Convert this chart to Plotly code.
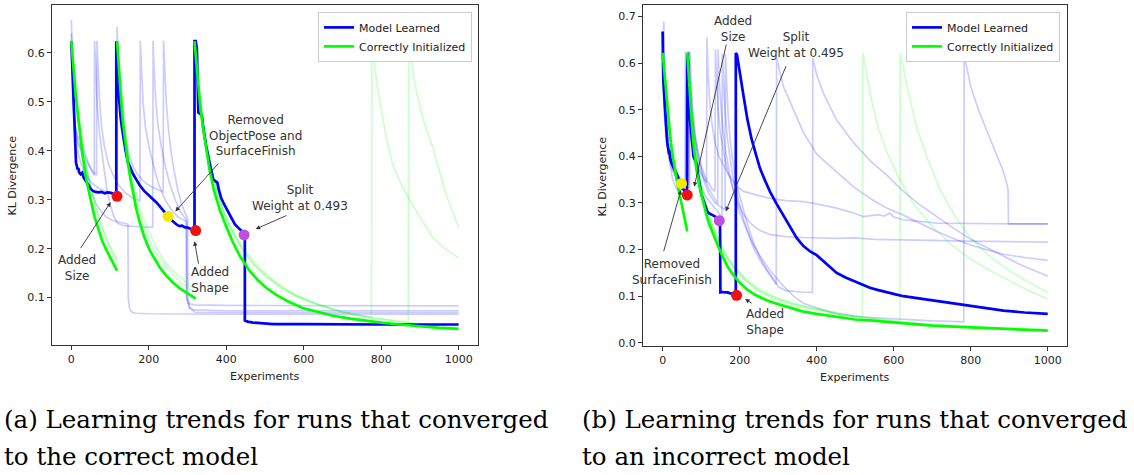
import plotly.graph_objects as go

W, H = 1134, 475

# ---------------- panel (a): runs that converged to the correct model ----------------
A_LEARNED = [(0, 0.624), (2, 0.58), (4, 0.52), (6, 0.47), (8, 0.43), (10, 0.40), (12, 0.375), (14, 0.37),
             (16, 0.362), (18, 0.365), (20, 0.356), (24, 0.352), (28, 0.355), (32, 0.345), (38, 0.338),
             (44, 0.33), (50, 0.322), (56, 0.318), (62, 0.316), (70, 0.315), (78, 0.316), (86, 0.313),
             (94, 0.315), (102, 0.314), (110, 0.312), (116, 0.31), (116, 0.624),
             (118, 0.60), (120, 0.54), (123, 0.50), (127, 0.47), (131, 0.445), (135, 0.424), (140, 0.40),
             (146, 0.377), (152, 0.365), (159, 0.353), (167, 0.342), (176, 0.33), (188, 0.318), (202, 0.308),
             (210, 0.302), (219, 0.295), (228, 0.287), (237, 0.279), (244, 0.273), (250, 0.266), (256, 0.26),
             (262, 0.255), (268, 0.252), (274, 0.248), (280, 0.246), (286, 0.247), (292, 0.244), (300, 0.243),
             (308, 0.241), (314, 0.239), (318, 0.237), (318, 0.624),
             (321, 0.624), (324, 0.61), (326, 0.50), (328, 0.478), (333, 0.475), (337, 0.472), (340, 0.45),
             (344, 0.424), (348, 0.41), (353, 0.39), (358, 0.37), (362, 0.352), (366, 0.342), (372, 0.338),
             (377, 0.335), (381, 0.32), (387, 0.303), (395, 0.29), (404, 0.276), (413, 0.262), (422, 0.25),
             (428, 0.245), (435, 0.239), (440, 0.236), (446, 0.23), (448, 0.23), (448, 0.053),
             (455, 0.051), (469, 0.049), (490, 0.048), (521, 0.046), (600, 0.046), (700, 0.045),
             (800, 0.045), (900, 0.045), (1000, 0.045)]

A_INIT_1 = [(0, 0.624), (5, 0.57), (10, 0.525), (15, 0.485), (20, 0.45), (25, 0.415), (30, 0.385), (40, 0.335),
            (50, 0.297), (60, 0.265), (70, 0.24), (80, 0.215), (90, 0.198), (100, 0.183), (110, 0.168), (118, 0.155)]
A_INIT_2 = [(118, 0.624), (123, 0.56), (128, 0.51), (133, 0.46), (140, 0.41), (146, 0.375), (152, 0.345),
            (159, 0.315), (168, 0.28), (176, 0.255), (188, 0.225), (202, 0.197), (215, 0.178), (228, 0.162),
            (245, 0.145), (262, 0.131), (280, 0.119), (297, 0.11), (310, 0.103), (321, 0.098)]
A_INIT_3 = [(318, 0.624), (323, 0.575), (327, 0.54), (333, 0.49), (340, 0.447), (348, 0.405), (357, 0.36),
            (368, 0.32), (383, 0.28), (400, 0.245), (417, 0.213), (435, 0.185), (460, 0.155), (480, 0.137),
            (503, 0.12), (530, 0.105), (560, 0.092), (600, 0.078), (630, 0.072), (676, 0.063), (720, 0.057),
            (762, 0.052), (800, 0.049), (848, 0.045), (900, 0.041), (950, 0.038), (1000, 0.036)]

A_OTHER_LEARNED_1 = [(0, 0.667), (2, 0.6), (4, 0.54), (7, 0.48), (10, 0.44), (15, 0.42), (20, 0.41), (28, 0.39),
                     (36, 0.37), (45, 0.34), (55, 0.31), (65, 0.29), (78, 0.275), (90, 0.265), (105, 0.258),
                     (120, 0.255), (135, 0.252), (146, 0.25), (147, 0.1), (150, 0.078), (155, 0.071),
                     (165, 0.068), (200, 0.067), (400, 0.066), (1000, 0.066)]
A_OTHER_LEARNED_2 = [(0, 0.64), (3, 0.56), (6, 0.49), (10, 0.45), (16, 0.43), (24, 0.42), (32, 0.40), (42, 0.38),
                     (52, 0.36), (59, 0.35), (60, 0.625), (63, 0.56), (67, 0.49), (72, 0.44), (78, 0.40),
                     (85, 0.36), (92, 0.32), (100, 0.29), (110, 0.265), (120, 0.252), (135, 0.247), (160, 0.245),
                     (190, 0.244), (210, 0.244), (211, 0.625), (214, 0.56), (218, 0.5), (224, 0.45), (232, 0.41),
                     (242, 0.37), (255, 0.33), (268, 0.3), (282, 0.275), (296, 0.26), (297, 0.1), (302, 0.088),
                     (320, 0.085), (400, 0.084), (1000, 0.083)]
A_OTHER_LEARNED_3 = [(0, 0.625), (4, 0.52), (8, 0.46), (14, 0.43), (22, 0.41), (32, 0.39), (45, 0.37), (58, 0.355),
                     (65, 0.35), (66, 0.625), (69, 0.56), (73, 0.5), (78, 0.45), (85, 0.41), (95, 0.375),
                     (108, 0.35), (122, 0.33), (138, 0.315), (155, 0.305), (170, 0.3), (177, 0.298), (178, 0.625),
                     (181, 0.56), (185, 0.5), (191, 0.45), (200, 0.41), (212, 0.37), (226, 0.33), (242, 0.3),
                     (258, 0.28), (275, 0.265), (290, 0.258), (298, 0.255), (298, 0.1), (304, 0.08), (315, 0.075),
                     (400, 0.073), (1000, 0.073)]
A_OTHER_LEARNED_4 = [(0, 0.61), (4, 0.5), (9, 0.44), (16, 0.4), (26, 0.37), (38, 0.35), (52, 0.335), (68, 0.325),
                     (85, 0.318), (100, 0.314), (117, 0.31), (118, 0.654), (121, 0.58), (125, 0.52), (130, 0.47),
                     (137, 0.43), (146, 0.4), (158, 0.37), (172, 0.35), (190, 0.335), (210, 0.325), (230, 0.318),
                     (237, 0.316), (238, 0.625), (241, 0.56), (245, 0.5), (250, 0.45), (257, 0.4), (265, 0.36),
                     (275, 0.32), (285, 0.29), (295, 0.27), (300, 0.262), (301, 0.1), (306, 0.078), (320, 0.07),
                     (400, 0.069), (1000, 0.069)]

A_OTHER_INIT_1 = [(0, 0.62), (8, 0.55), (16, 0.49), (25, 0.435), (35, 0.385), (45, 0.345), (55, 0.31), (65, 0.28),
                  (75, 0.255), (85, 0.232), (95, 0.213), (105, 0.197), (112, 0.187), (118, 0.178)]
A_OTHER_INIT_2 = [(0, 0.62), (10, 0.54), (20, 0.47), (30, 0.41), (42, 0.355), (55, 0.31), (68, 0.27), (80, 0.24),
                  (92, 0.215), (104, 0.195), (118, 0.172)]
A_OTHER_INIT_3 = [(118, 0.62), (126, 0.54), (135, 0.46), (145, 0.395), (157, 0.335), (170, 0.29), (185, 0.25),
                  (200, 0.22), (220, 0.19), (240, 0.167), (260, 0.148), (280, 0.133), (300, 0.12), (318, 0.11)]
A_OTHER_INIT_4 = [(118, 0.62), (128, 0.53), (138, 0.45), (150, 0.38), (165, 0.32), (180, 0.275), (200, 0.235),
                  (220, 0.2), (240, 0.175), (262, 0.155), (285, 0.138), (305, 0.125), (318, 0.118)]
A_OTHER_INIT_5 = [(318, 0.62), (326, 0.55), (336, 0.48), (348, 0.415), (362, 0.36), (378, 0.31), (395, 0.27),
                  (415, 0.235), (440, 0.2), (470, 0.168), (500, 0.145), (540, 0.12), (580, 0.103), (620, 0.09),
                  (660, 0.08), (700, 0.071), (750, 0.063), (775, 0.06), (776, 0.62), (790, 0.53), (810, 0.44),
                  (830, 0.37), (850, 0.335), (873, 0.3), (900, 0.265), (934, 0.222), (965, 0.2), (1000, 0.181)]
A_OTHER_INIT_6 = [(318, 0.62), (328, 0.54), (340, 0.46), (352, 0.40), (366, 0.35), (382, 0.30), (400, 0.26),
                  (420, 0.228), (445, 0.195), (475, 0.165), (510, 0.14), (550, 0.117), (590, 0.1), (630, 0.088),
                  (680, 0.075), (730, 0.065), (780, 0.058), (830, 0.053), (870, 0.05), (871, 0.62), (891, 0.52),
                  (910, 0.46), (934, 0.404), (950, 0.36), (968, 0.31), (985, 0.275), (1000, 0.243)]
A_OTHER_INIT_7 = [(318, 0.62), (330, 0.52), (345, 0.43), (360, 0.37), (380, 0.31), (400, 0.265), (425, 0.225),
                  (455, 0.19), (490, 0.158), (530, 0.13), (580, 0.105), (640, 0.085), (700, 0.07), (780, 0.058),
                  (860, 0.049), (940, 0.043), (1000, 0.039)]

A_EVENT_X = [118, 250, 321, 446]
A_EVENT_Y = [0.307, 0.266, 0.237, 0.228]
A_EVENT_COLOR = ["#f01010", "#f5e800", "#f01010", "#bf4fdc"]

# ---------------- panel (b): runs that converged to an incorrect model ----------------
B_LEARNED = [(0, 0.668), (0, 0.63), (1, 0.6), (2, 0.56), (4, 0.526), (6, 0.50), (8, 0.47), (10, 0.455), (12, 0.43),
             (14, 0.42), (16, 0.409), (18, 0.41), (20, 0.395), (24, 0.384), (28, 0.378), (32, 0.37), (36, 0.363),
             (40, 0.355), (44, 0.345), (48, 0.335), (52, 0.33), (56, 0.328), (60, 0.322), (63, 0.318), (64, 0.622),
             (66, 0.6), (67, 0.512), (70, 0.49), (72, 0.477), (75, 0.45), (78, 0.42), (80, 0.40), (84, 0.39),
             (88, 0.384), (92, 0.36), (96, 0.335), (100, 0.32), (104, 0.31), (108, 0.30), (112, 0.29),
             (116, 0.282), (120, 0.278), (126, 0.275), (132, 0.272), (138, 0.27), (143, 0.268), (147, 0.262),
             (149, 0.258), (150, 0.108), (156, 0.109), (162, 0.108), (168, 0.108), (176, 0.106), (184, 0.105),
             (190, 0.102), (190, 0.622), (193, 0.618), (200, 0.585), (210, 0.53), (220, 0.48), (231, 0.437),
             (242, 0.405), (253, 0.374), (266, 0.348), (279, 0.324), (296, 0.298), (313, 0.274), (330, 0.25),
             (348, 0.225), (365, 0.208), (383, 0.196), (400, 0.188), (417, 0.175), (435, 0.162), (452, 0.15),
             (475, 0.14), (495, 0.133), (520, 0.125), (538, 0.118), (560, 0.113), (582, 0.108), (605, 0.104),
             (625, 0.1), (650, 0.097), (680, 0.093), (712, 0.09), (750, 0.085), (798, 0.079), (840, 0.074),
             (885, 0.069), (940, 0.065), (1000, 0.062)]

B_INIT_1 = [(0, 0.622), (4, 0.585), (8, 0.548), (12, 0.505), (16, 0.47), (20, 0.44), (24, 0.413), (28, 0.39),
            (32, 0.371), (36, 0.352), (40, 0.335), (44, 0.318), (48, 0.30), (52, 0.285), (56, 0.271), (60, 0.255),
            (64, 0.239)]
B_INIT_2 = [(64, 0.622), (68, 0.565), (72, 0.512), (76, 0.468), (80, 0.427), (84, 0.397), (88, 0.371), (96, 0.335),
            (104, 0.306), (112, 0.28), (120, 0.257), (132, 0.23), (144, 0.207), (156, 0.185), (168, 0.164),
            (184, 0.145), (200, 0.129), (220, 0.114), (240, 0.103), (260, 0.095), (280, 0.088), (300, 0.083),
            (330, 0.075), (365, 0.067), (400, 0.062), (452, 0.055), (500, 0.05), (538, 0.048), (582, 0.045),
            (625, 0.042), (700, 0.037), (798, 0.033), (900, 0.029), (1000, 0.026)]

B_OTHER_LEARNED_1 = [(0, 0.625), (3, 0.69), (5, 0.6), (8, 0.52), (12, 0.46), (17, 0.42), (22, 0.39), (28, 0.37),
                     (35, 0.355), (45, 0.345), (58, 0.34), (59, 0.625), (62, 0.56), (66, 0.5), (72, 0.45), (80, 0.4),
                     (90, 0.36), (102, 0.33), (115, 0.31), (135, 0.29), (150, 0.275), (154, 0.27), (155, 0.62),
                     (158, 0.56), (162, 0.5), (168, 0.44), (176, 0.39), (186, 0.34), (198, 0.3), (212, 0.26),
                     (230, 0.22), (250, 0.19), (279, 0.155), (310, 0.125), (340, 0.1), (365, 0.085), (400, 0.075),
                     (452, 0.062), (520, 0.055), (625, 0.05), (700, 0.047), (782, 0.045), (783, 0.618), (800, 0.55),
                     (820, 0.5), (842, 0.455), (865, 0.41), (885, 0.367), (897, 0.33), (898, 0.255), (950, 0.255),
                     (1000, 0.255)]
B_OTHER_LEARNED_2 = [(0, 0.6), (4, 0.5), (8, 0.45), (14, 0.41), (20, 0.38), (26, 0.35), (30, 0.34), (36, 0.33),
                     (42, 0.325), (50, 0.32), (64, 0.318), (65, 0.625), (68, 0.55), (72, 0.5), (78, 0.45), (86, 0.4),
                     (96, 0.37), (108, 0.35), (114, 0.345), (115, 0.655), (118, 0.58), (122, 0.52), (128, 0.47),
                     (136, 0.43), (146, 0.4), (158, 0.38), (172, 0.36), (190, 0.338), (210, 0.325), (240, 0.318),
                     (279, 0.31), (320, 0.305), (365, 0.303), (400, 0.298), (452, 0.289), (490, 0.28), (521, 0.271),
                     (560, 0.275), (575, 0.272), (590, 0.278), (600, 0.27), (625, 0.264), (670, 0.26), (712, 0.257),
                     (800, 0.256), (900, 0.255), (1000, 0.255)]
B_OTHER_LEARNED_3 = [(0, 0.62), (4, 0.52), (9, 0.46), (15, 0.42), (22, 0.4), (30, 0.38), (40, 0.36), (52, 0.345),
                     (62, 0.335), (70, 0.33), (71, 0.625), (74, 0.56), (78, 0.5), (84, 0.45), (92, 0.41),
                     (102, 0.375), (114, 0.35), (128, 0.33), (136, 0.325), (137, 0.63), (140, 0.56), (144, 0.5),
                     (150, 0.45), (158, 0.41), (168, 0.37), (180, 0.34), (195, 0.3), (210, 0.275), (230, 0.255),
                     (250, 0.242), (280, 0.232), (320, 0.228), (365, 0.226), (452, 0.224), (500, 0.225),
                     (550, 0.222), (600, 0.221), (700, 0.219), (800, 0.218), (900, 0.217), (1000, 0.216)]
B_OTHER_LEARNED_4 = [(0, 0.6), (5, 0.49), (10, 0.43), (18, 0.39), (26, 0.37), (36, 0.355), (48, 0.345), (60, 0.34),
                     (66, 0.337), (67, 0.625), (70, 0.56), (75, 0.5), (82, 0.45), (92, 0.4), (105, 0.36), (120, 0.33),
                     (140, 0.3), (143, 0.298), (144, 0.63), (148, 0.55), (154, 0.48), (162, 0.42), (172, 0.37),
                     (185, 0.32), (200, 0.28), (218, 0.24), (238, 0.2), (258, 0.17), (278, 0.145), (295, 0.125),
                     (296, 0.611), (313, 0.551), (340, 0.5), (365, 0.452), (400, 0.405), (452, 0.367), (495, 0.335),
                     (538, 0.31), (580, 0.29), (625, 0.274), (670, 0.255), (712, 0.239), (755, 0.224), (798, 0.21),
                     (840, 0.2), (885, 0.19), (940, 0.183), (1000, 0.177)]
B_OTHER_LEARNED_5 = [(0, 0.62), (5, 0.5), (10, 0.44), (17, 0.4), (25, 0.38), (35, 0.36), (47, 0.35), (60, 0.345),
                     (68, 0.34), (69, 0.625), (72, 0.56), (77, 0.5), (84, 0.44), (94, 0.39), (106, 0.35), (120, 0.32),
                     (136, 0.3), (152, 0.29), (162, 0.285), (163, 0.62), (166, 0.55), (170, 0.49), (176, 0.43),
                     (184, 0.38), (195, 0.33), (208, 0.29), (222, 0.25), (238, 0.21), (255, 0.18), (272, 0.155),
                     (290, 0.135), (300, 0.12), (320, 0.112), (360, 0.109), (389, 0.108), (390, 0.611), (400, 0.575),
                     (417, 0.537), (450, 0.48), (495, 0.43), (540, 0.39), (582, 0.36), (625, 0.325), (668, 0.296),
                     (712, 0.27), (755, 0.246), (800, 0.222), (842, 0.204), (885, 0.185), (928, 0.168),
                     (965, 0.155), (1000, 0.143)]

B_OTHER_INIT_1 = [(64, 0.622), (70, 0.54), (76, 0.48), (84, 0.42), (94, 0.36), (106, 0.31), (120, 0.27),
                  (136, 0.235), (152, 0.205), (170, 0.178), (190, 0.155), (212, 0.135), (236, 0.118), (262, 0.105),
                  (290, 0.095), (320, 0.086), (360, 0.077), (400, 0.07), (450, 0.062), (500, 0.056), (560, 0.05),
                  (620, 0.045), (700, 0.04), (800, 0.035), (900, 0.031), (1000, 0.028)]
B_OTHER_INIT_2 = [(64, 0.622), (71, 0.53), (78, 0.47), (86, 0.41), (96, 0.355), (108, 0.305), (122, 0.265),
                  (138, 0.23), (156, 0.198), (176, 0.172), (198, 0.15), (222, 0.13), (248, 0.114), (276, 0.102),
                  (306, 0.092), (340, 0.083), (380, 0.075), (420, 0.068), (470, 0.06), (519, 0.054), (520, 0.622),
                  (540, 0.53), (560, 0.46), (582, 0.41), (610, 0.36), (650, 0.30), (700, 0.25), (750, 0.21),
                  (800, 0.18), (850, 0.155), (900, 0.133), (950, 0.112), (1000, 0.094)]
B_OTHER_INIT_3 = [(64, 0.622), (72, 0.52), (80, 0.45), (90, 0.39), (102, 0.335), (116, 0.29), (132, 0.25),
                  (150, 0.215), (170, 0.183), (192, 0.158), (216, 0.137), (242, 0.12), (270, 0.107), (300, 0.096),
                  (340, 0.085), (390, 0.075), (440, 0.067), (500, 0.058), (560, 0.051), (616, 0.046), (617, 0.622),
                  (640, 0.53), (660, 0.46), (690, 0.39), (720, 0.33), (760, 0.27), (800, 0.225), (850, 0.185),
                  (900, 0.155), (950, 0.13), (1000, 0.108)]

B_EVENT_X = [49, 64, 147, 192]
B_EVENT_Y = [0.342, 0.317, 0.262, 0.102]
B_EVENT_COLOR = ["#f5e800", "#f01010", "#bf4fdc", "#f01010"]

X_TICKS = [0, 200, 400, 600, 800, 1000]
A_Y_TICKS = [0.1, 0.2, 0.3, 0.4, 0.5, 0.6]
B_Y_TICKS = [0.0, 0.1, 0.2, 0.3, 0.4, 0.5, 0.6, 0.7]

CAPTION_A = ["(a) Learning trends for runs that converged", "to the correct model"]
CAPTION_B = ["(b) Learning trends for runs that converged", "to an incorrect model"]

BLUE = "#0000ff"
GREEN = "#00ff00"
FAINT_BLUE = "rgba(0,0,255,0.2)"
FAINT_GREEN = "rgba(0,255,0,0.2)"
INK = "#333333"


def xs(points):
    return [p[0] for p in points]


def ys(points):
    return [p[1] for p in points]


def join_segments(segments):
    x, y = [], []
    for i, seg in enumerate(segments):
        if i:
            x.append(None)
            y.append(None)
        x += xs(seg)
        y += ys(seg)
    return x, y


fig = go.Figure()

panels = [
    dict(xa="x", ya="y", legend="legend",
         faint_blue=[A_OTHER_LEARNED_1, A_OTHER_LEARNED_2, A_OTHER_LEARNED_3, A_OTHER_LEARNED_4],
         faint_green=[A_OTHER_INIT_1, A_OTHER_INIT_2, A_OTHER_INIT_3, A_OTHER_INIT_4, A_OTHER_INIT_5,
                      A_OTHER_INIT_6, A_OTHER_INIT_7],
         learned=A_LEARNED, init=[A_INIT_1, A_INIT_2, A_INIT_3],
         ev=(A_EVENT_X, A_EVENT_Y, A_EVENT_COLOR)),
    dict(xa="x2", ya="y2", legend="legend2",
         faint_blue=[B_OTHER_LEARNED_1, B_OTHER_LEARNED_2, B_OTHER_LEARNED_3, B_OTHER_LEARNED_4, B_OTHER_LEARNED_5],
         faint_green=[B_OTHER_INIT_1, B_OTHER_INIT_2, B_OTHER_INIT_3],
         learned=B_LEARNED, init=[B_INIT_1, B_INIT_2],
         ev=(B_EVENT_X, B_EVENT_Y, B_EVENT_COLOR)),
]

for p in panels:
    for run in p["faint_blue"]:
        fig.add_trace(go.Scatter(x=xs(run), y=ys(run), mode="lines", xaxis=p["xa"], yaxis=p["ya"],
                                 line=dict(color=FAINT_BLUE, width=1.7), showlegend=False, hoverinfo="skip"))
    for run in p["faint_green"]:
        fig.add_trace(go.Scatter(x=xs(run), y=ys(run), mode="lines", xaxis=p["xa"], yaxis=p["ya"],
                                 line=dict(color=FAINT_GREEN, width=1.7), showlegend=False, hoverinfo="skip"))
    fig.add_trace(go.Scatter(x=xs(p["learned"]), y=ys(p["learned"]), mode="lines", name="Model Learned",
                             xaxis=p["xa"], yaxis=p["ya"], legend=p["legend"],
                             line=dict(color=BLUE, width=2.7)))
    gx, gy = join_segments(p["init"])
    fig.add_trace(go.Scatter(x=gx, y=gy, mode="lines", name="Correctly Initialized", connectgaps=False,
                             xaxis=p["xa"], yaxis=p["ya"], legend=p["legend"],
                             line=dict(color=GREEN, width=2.7)))
    ex, ey, ec = p["ev"]
    fig.add_trace(go.Scatter(x=ex, y=ey, mode="markers", xaxis=p["xa"], yaxis=p["ya"], showlegend=False,
                             marker=dict(color=ec, size=11, line=dict(width=0))))

TICKFONT = dict(family="DejaVu Sans", size=11, color="#222222")
common_axis = dict(showgrid=False, zeroline=False, showline=True, mirror=True, linecolor=INK, linewidth=1,
                   ticks="outside", ticklen=4, tickwidth=1, tickcolor=INK, tickfont=TICKFONT)

fig.update_layout(
    width=W, height=H, margin=dict(l=0, r=0, t=0, b=0, pad=0),
    plot_bgcolor="white", paper_bgcolor="white",
    xaxis=dict(domain=[52 / W, 478 / W], range=[-50, 1050], anchor="y", tickvals=X_TICKS, **common_axis),
    yaxis=dict(domain=[1 - 348 / H, 1 - 5 / H], range=[0.003, 0.698], anchor="x", tickvals=A_Y_TICKS,
               ticktext=[f"{v:.1f}" for v in A_Y_TICKS], **common_axis),
    xaxis2=dict(domain=[643 / W, 1067 / W], range=[-51, 1050], anchor="y2", tickvals=X_TICKS, **common_axis),
    yaxis2=dict(domain=[1 - 349 / H, 1 - 5 / H], range=[-0.007, 0.725], anchor="x2", tickvals=B_Y_TICKS,
                ticktext=[f"{v:.1f}" for v in B_Y_TICKS], **common_axis),
    legend=dict(x=472 / W, y=1 - 12 / H, xanchor="right", yanchor="top", bgcolor="rgba(255,255,255,0.85)",
                bordercolor="#cccccc", borderwidth=1, itemwidth=30,
                font=dict(family="DejaVu Sans", size=11, color="#222222")),
    legend2=dict(x=1060 / W, y=1 - 12 / H, xanchor="right", yanchor="top", bgcolor="rgba(255,255,255,0.85)",
                 bordercolor="#cccccc", borderwidth=1, itemwidth=30,
                 font=dict(family="DejaVu Sans", size=11, color="#222222")),
)

LABELFONT = dict(family="DejaVu Sans", size=12, color=INK)
ann = []

# axis titles
for px, py in [(13, 177), (603, 178)]:
    ann.append(dict(text="KL Divergence", xref="paper", yref="paper", x=px / W, y=1 - py / H, showarrow=False,
                    textangle=-90, font=dict(family="DejaVu Sans", size=11, color="#222222"),
                    xanchor="center", yanchor="middle"))
for px, py in [(265, 380), (855, 381)]:
    ann.append(dict(text="Experiments", xref="paper", yref="paper", x=px / W, y=1 - py / H, showarrow=False,
                    font=dict(family="DejaVu Sans", size=11, color="#222222"), xanchor="center", yanchor="middle"))

# event labels: (text, text_x, text_y, tail_x, tail_y, head_x, head_y)
A_NOTES = [("Added<br>Size", 15.5, 0.160, 21.5, 0.198, 101.5, 0.295),
           ("Removed<br>ObjectPose and<br>SurfaceFinish", 475, 0.431, 383, 0.377, 268.5, 0.276),
           ("Added<br>Shape", 359, 0.135, 329, 0.166, 318, 0.215),
           ("Split<br>Weight at 0.493", 589.5, 0.3035, 559, 0.269, 476, 0.240)]
B_NOTES = [("Added<br>Size", 181.8, 0.673, 166, 0.643, 82, 0.335),
           ("Split<br>Weight at 0.495", 346, 0.638, 322, 0.597, 164, 0.282),
           ("Removed<br>SurfaceFinish", 23.4, 0.1515, 1.6, 0.193, 47.5, 0.328),
           ("Added<br>Shape", 265.7, 0.0447, 235, 0.083, 214, 0.094)]

for notes, xr, yr in [(A_NOTES, "x", "y"), (B_NOTES, "x2", "y2")]:
    for text, tx, ty, ax_, ay_, hx, hy in notes:
        ann.append(dict(text=text, xref=xr, yref=yr, x=tx, y=ty, showarrow=False, align="center",
                        font=LABELFONT, xanchor="center", yanchor="middle"))
        ann.append(dict(text="", xref=xr, yref=yr, x=hx, y=hy, axref=xr, ayref=yr, ax=ax_, ay=ay_,
                        showarrow=True, arrowhead=2, arrowsize=1, arrowwidth=0.9, arrowcolor=INK, standoff=0))

# captions
CAPFONT = dict(family="DejaVu Serif", size=24.5, color="#000000")
for lines, px in [(CAPTION_A, 2), (CAPTION_B, 580)]:
    for line, py in zip(lines, [423, 460]):
        ann.append(dict(text=line, xref="paper", yref="paper", x=px / W, y=1 - py / H, showarrow=False,
                        font=CAPFONT, xanchor="left", yanchor="middle"))

fig.update_layout(annotations=ann)
fig.write_html("out.html")
